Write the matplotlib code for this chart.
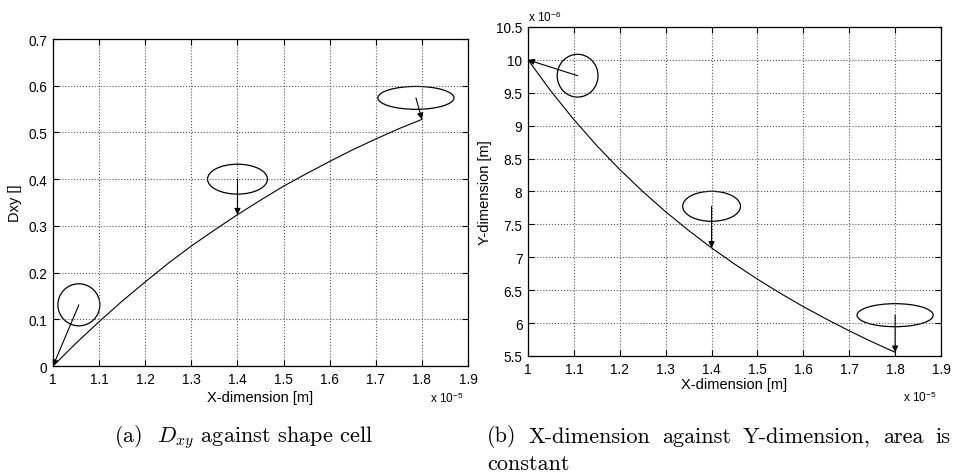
import matplotlib
matplotlib.use("Agg")
import matplotlib.pyplot as plt
from matplotlib.patches import Ellipse

plt.rcParams['font.family'] = ['Liberation Sans', 'DejaVu Sans']
plt.rcParams['mathtext.fontset'] = 'cm'

# x-dimension in units of 1e-5 m
x_dim = [1.00, 1.05, 1.10, 1.15, 1.20, 1.25, 1.30, 1.35, 1.40,
         1.45, 1.50, 1.55, 1.60, 1.65, 1.70, 1.75, 1.80]
# Dxy for each x-dimension
dxy = [0.000, 0.049, 0.095, 0.139, 0.180, 0.220, 0.257, 0.291, 0.324,
       0.355, 0.385, 0.412, 0.438, 0.463, 0.486, 0.508, 0.528]
# y-dimension in units of 1e-6 m
y_dim = [10.000, 9.524, 9.091, 8.696, 8.333, 8.000, 7.692, 7.407, 7.143,
         6.897, 6.667, 6.452, 6.250, 6.061, 5.882, 5.714, 5.556]

x_ticks = [1.0, 1.1, 1.2, 1.3, 1.4, 1.5, 1.6, 1.7, 1.8, 1.9]
x_tick_labels = ['1', '1.1', '1.2', '1.3', '1.4', '1.5', '1.6', '1.7', '1.8', '1.9']
dxy_ticks = [0, 0.1, 0.2, 0.3, 0.4, 0.5, 0.6, 0.7]
dxy_tick_labels = ['0', '0.1', '0.2', '0.3', '0.4', '0.5', '0.6', '0.7']
y_ticks = [5.5, 6, 6.5, 7, 7.5, 8, 8.5, 9, 9.5, 10, 10.5]
y_tick_labels = ['5.5', '6', '6.5', '7', '7.5', '8', '8.5', '9', '9.5', '10', '10.5']

# cell shape sketches: (centre x, centre y, width, height, arrow tip x, arrow tip y)
shapes_a = [(1.056, 0.131, 0.091, 0.090, 1.00, 0.000),
            (1.400, 0.400, 0.130, 0.064, 1.40, 0.324),
            (1.787, 0.574, 0.165, 0.049, 1.80, 0.528)]
shapes_b = [(1.108, 9.76, 0.089, 0.65, 1.00, 10.00),
            (1.400, 7.775, 0.126, 0.456, 1.40, 7.143),
            (1.800, 6.12, 0.166, 0.35, 1.80, 5.556)]

caption_a = r'(a)  $D_{xy}$ against shape cell'
caption_b = ['(b)', 'X-dimension', 'against', 'Y-dimension,', 'area', 'is']
caption_b2 = 'constant'

W, H = 954, 477
fig = plt.figure(figsize=(W / 100, H / 100), dpi=100)
ax_a = fig.add_axes([0.0556, 0.2306, 0.4350, 0.6855])
ax_b = fig.add_axes([0.5535, 0.2516, 0.4329, 0.6897])


def style_axes(ax, yticks, ylabels, ylim):
    ax.set_xlim(1.0, 1.9)
    ax.set_ylim(*ylim)
    ax.set_xticks(x_ticks)
    ax.set_xticklabels(x_tick_labels)
    ax.set_yticks(yticks)
    ax.set_yticklabels(ylabels)
    ax.tick_params(direction='in', length=4, width=0.8, top=True, right=True,
                   labelsize=9.8, pad=4)
    ax.grid(True, linestyle=':', color='0.35', linewidth=0.8)
    for s in ax.spines.values():
        s.set_linewidth(0.9)


def draw_shapes(ax, shapes):
    for cx, cy, w, h, tx, ty in shapes:
        ax.add_patch(Ellipse((cx, cy), w, h, fill=False, edgecolor='black', lw=0.9))
        ax.annotate('', xy=(tx, ty), xytext=(cx, cy),
                    arrowprops=dict(arrowstyle='-|>', color='black', lw=0.8,
                                    mutation_scale=9, shrinkA=0, shrinkB=0))


# (a) Dxy against x-dimension
ax_a.plot(x_dim, dxy, color='black', lw=0.8)
style_axes(ax_a, dxy_ticks, dxy_tick_labels, (0, 0.7))
draw_shapes(ax_a, shapes_a)
ax_a.set_xlabel('X-dimension [m]', fontsize=10.5, labelpad=3)
ax_a.set_ylabel('Dxy []', fontsize=10.5, labelpad=5)
ax_a.text(0.99, -0.075, r'x 10$^{\mathregular{-5}}$', transform=ax_a.transAxes,
          ha='right', va='top', fontsize=8.5)

# (b) y-dimension against x-dimension at constant area
ax_b.plot(x_dim, y_dim, color='black', lw=0.8)
style_axes(ax_b, y_ticks, y_tick_labels, (5.5, 10.5))
draw_shapes(ax_b, shapes_b)
ax_b.set_xlabel('X-dimension [m]', fontsize=10.5, labelpad=1)
ax_b.set_ylabel('Y-dimension [m]', fontsize=10.5, labelpad=3)
ax_b.text(0.99, -0.10, r'x 10$^{\mathregular{-5}}$', transform=ax_b.transAxes,
          ha='right', va='top', fontsize=8.5)
ax_b.text(0.0, 1.01, r'x 10$^{\mathregular{-6}}$', transform=ax_b.transAxes,
          ha='left', va='bottom', fontsize=8.5)

# captions
cap_kw = dict(family='cmr10', fontsize=16, va='center')
fig.text(243 / W, 1 - 437 / H, caption_a, ha='center', **cap_kw)

# first line of caption (b) is justified between x0 and x1
x0, x1 = 487, 950
renderer = fig.canvas.get_renderer()
words = [fig.text(0, 1 - 437 / H, w, ha='left', **cap_kw) for w in caption_b]
widths = [t.get_window_extent(renderer).width for t in words]
gap = (x1 - x0 - sum(widths)) / (len(words) - 1)
pos = x0
for t, w in zip(words, widths):
    t.set_x(pos / W)
    pos += w + gap
fig.text(x0 / W, 1 - 464 / H, caption_b2, ha='left', **cap_kw)

fig.savefig('out.png', dpi=100)
